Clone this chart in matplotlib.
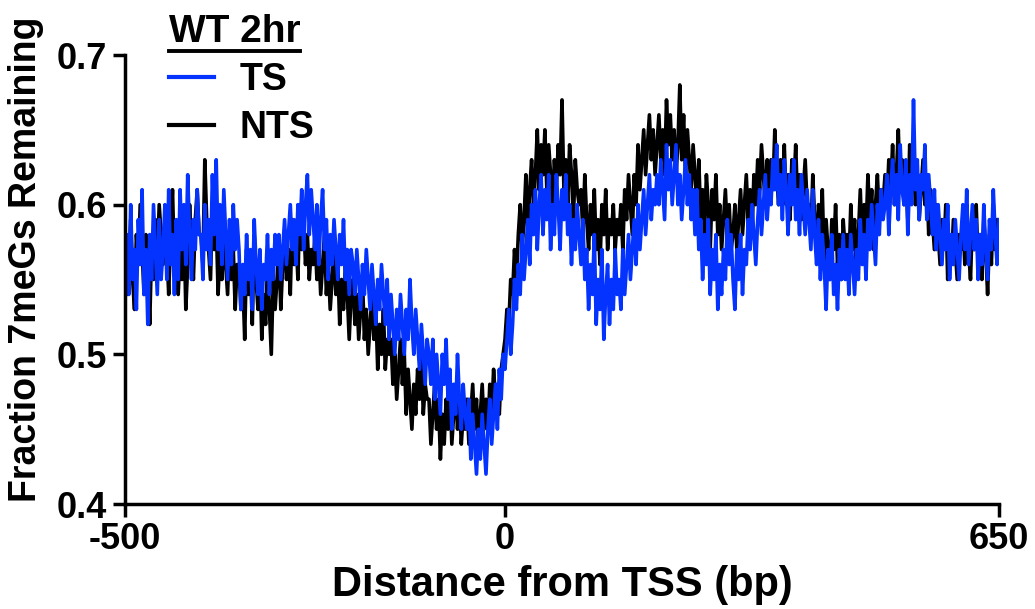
import matplotlib
matplotlib.use("Agg")
import matplotlib.pyplot as plt
import numpy as np
from matplotlib.lines import Line2D

plt.rcParams['font.family'] = ['Liberation Sans', 'DejaVu Sans']
plt.rcParams['font.weight'] = 'bold'

# distance from TSS, every 2.5 bp (one row below = 50 bp)
pos = np.arange(-500, 650.1, 2.5)

ts = [
    0.56, 0.58, 0.54, 0.60, 0.55, 0.57, 0.53, 0.59, 0.56, 0.61, 0.54, 0.57, 0.52, 0.58, 0.55, 0.60, 0.57, 0.54, 0.59, 0.55,
    0.57, 0.60, 0.55, 0.61, 0.56, 0.58, 0.54, 0.59, 0.55, 0.61, 0.57, 0.60, 0.56, 0.62, 0.58, 0.55, 0.59, 0.57, 0.61, 0.58,
    0.58, 0.55, 0.60, 0.57, 0.59, 0.56, 0.62, 0.58, 0.63, 0.57, 0.60, 0.56, 0.61, 0.58, 0.55, 0.59, 0.56, 0.60, 0.57, 0.59,
    0.57, 0.53, 0.56, 0.54, 0.58, 0.55, 0.57, 0.53, 0.59, 0.56, 0.54, 0.57, 0.53, 0.56, 0.55, 0.58, 0.54, 0.57, 0.55, 0.58,
    0.56, 0.58, 0.55, 0.57, 0.59, 0.56, 0.58, 0.60, 0.57, 0.59, 0.56, 0.60, 0.58, 0.61, 0.57, 0.60, 0.62, 0.58, 0.61, 0.59,
    0.57, 0.60, 0.56, 0.59, 0.61, 0.57, 0.59, 0.55, 0.58, 0.56, 0.59, 0.57, 0.55, 0.58, 0.56, 0.59, 0.55, 0.57, 0.54, 0.57,
    0.56, 0.54, 0.57, 0.55, 0.53, 0.56, 0.54, 0.57, 0.55, 0.53, 0.56, 0.54, 0.52, 0.55, 0.53, 0.56, 0.54, 0.52, 0.55, 0.51,
    0.54, 0.52, 0.50, 0.53, 0.51, 0.54, 0.52, 0.50, 0.53, 0.51, 0.55, 0.52, 0.50, 0.53, 0.51, 0.49, 0.52, 0.50, 0.48, 0.51,
    0.50, 0.48, 0.51, 0.47, 0.50, 0.48, 0.46, 0.50, 0.48, 0.51, 0.47, 0.49, 0.45, 0.48, 0.46, 0.50, 0.47, 0.45, 0.48, 0.46,
    0.45, 0.47, 0.43, 0.46, 0.44, 0.42, 0.45, 0.43, 0.46, 0.44, 0.42, 0.45, 0.47, 0.44, 0.46, 0.48, 0.45, 0.49, 0.47, 0.50,
    0.49, 0.51, 0.53, 0.50, 0.52, 0.55, 0.53, 0.56, 0.54, 0.58, 0.55, 0.57, 0.59, 0.56, 0.60, 0.58, 0.61, 0.57, 0.60, 0.62,
    0.58, 0.61, 0.59, 0.62, 0.57, 0.60, 0.58, 0.62, 0.60, 0.57, 0.61, 0.59, 0.62, 0.58, 0.60, 0.56, 0.59, 0.57, 0.60, 0.58,
    0.56, 0.59, 0.55, 0.57, 0.53, 0.56, 0.54, 0.58, 0.52, 0.55, 0.53, 0.57, 0.51, 0.54, 0.56, 0.52, 0.55, 0.53, 0.57, 0.54,
    0.55, 0.53, 0.57, 0.54, 0.56, 0.58, 0.55, 0.57, 0.59, 0.56, 0.60, 0.57, 0.59, 0.61, 0.58, 0.60, 0.62, 0.59, 0.61, 0.60,
    0.62, 0.60, 0.63, 0.61, 0.59, 0.64, 0.61, 0.63, 0.60, 0.62, 0.64, 0.60, 0.62, 0.59, 0.61, 0.63, 0.60, 0.62, 0.59, 0.61,
    0.58, 0.61, 0.57, 0.59, 0.55, 0.58, 0.56, 0.59, 0.54, 0.57, 0.55, 0.58, 0.53, 0.56, 0.54, 0.57, 0.55, 0.59, 0.56, 0.58,
    0.55, 0.53, 0.57, 0.55, 0.58, 0.54, 0.57, 0.56, 0.59, 0.57, 0.60, 0.58, 0.56, 0.59, 0.61, 0.58, 0.60, 0.62, 0.59, 0.61,
    0.60, 0.63, 0.61, 0.64, 0.60, 0.62, 0.59, 0.63, 0.61, 0.58, 0.62, 0.60, 0.63, 0.59, 0.61, 0.58, 0.62, 0.60, 0.58, 0.61,
    0.59, 0.57, 0.61, 0.58, 0.56, 0.59, 0.55, 0.58, 0.56, 0.53, 0.57, 0.55, 0.58, 0.54, 0.56, 0.53, 0.57, 0.55, 0.58, 0.55,
    0.57, 0.54, 0.58, 0.56, 0.54, 0.57, 0.55, 0.59, 0.56, 0.58, 0.55, 0.59, 0.57, 0.60, 0.58, 0.56, 0.60, 0.58, 0.61, 0.59,
    0.60, 0.62, 0.58, 0.61, 0.63, 0.60, 0.62, 0.59, 0.64, 0.61, 0.60, 0.63, 0.58, 0.62, 0.60, 0.67, 0.61, 0.63, 0.59, 0.62,
    0.61, 0.64, 0.59, 0.62, 0.60, 0.58, 0.61, 0.57, 0.60, 0.58, 0.56, 0.59, 0.57, 0.60, 0.55, 0.58, 0.56, 0.59, 0.57, 0.55,
    0.58, 0.60, 0.57, 0.61, 0.56, 0.58, 0.60, 0.57, 0.59, 0.55, 0.58, 0.56, 0.60, 0.57, 0.55, 0.59, 0.57, 0.61, 0.58, 0.56,
    0.59,
]

nts = [
    0.57, 0.54, 0.56, 0.59, 0.55, 0.53, 0.58, 0.56, 0.60, 0.57, 0.54, 0.58, 0.56, 0.52, 0.57, 0.55, 0.59, 0.56, 0.60, 0.58,
    0.56, 0.59, 0.57, 0.54, 0.58, 0.61, 0.56, 0.58, 0.54, 0.57, 0.55, 0.59, 0.53, 0.56, 0.60, 0.57, 0.55, 0.59, 0.61, 0.58,
    0.58, 0.56, 0.63, 0.59, 0.57, 0.55, 0.60, 0.57, 0.59, 0.54, 0.57, 0.55, 0.58, 0.56, 0.54, 0.58, 0.55, 0.57, 0.53, 0.56,
    0.56, 0.53, 0.55, 0.51, 0.57, 0.54, 0.56, 0.52, 0.58, 0.55, 0.53, 0.56, 0.51, 0.54, 0.52, 0.56, 0.53, 0.50, 0.55, 0.53,
    0.55, 0.57, 0.53, 0.56, 0.58, 0.55, 0.57, 0.54, 0.59, 0.56, 0.58, 0.55, 0.60, 0.57, 0.59, 0.56, 0.58, 0.55, 0.57, 0.56,
    0.58, 0.55, 0.57, 0.54, 0.56, 0.58, 0.54, 0.56, 0.53, 0.55, 0.57, 0.54, 0.56, 0.52, 0.55, 0.53, 0.56, 0.54, 0.51, 0.54,
    0.55, 0.52, 0.54, 0.51, 0.53, 0.55, 0.51, 0.53, 0.50, 0.52, 0.54, 0.51, 0.53, 0.49, 0.52, 0.50, 0.53, 0.49, 0.51, 0.50,
    0.51, 0.48, 0.50, 0.47, 0.49, 0.51, 0.48, 0.50, 0.46, 0.49, 0.47, 0.45, 0.48, 0.46, 0.49, 0.47, 0.50, 0.46, 0.48, 0.47,
    0.47, 0.44, 0.46, 0.48, 0.45, 0.47, 0.43, 0.46, 0.44, 0.47, 0.45, 0.48, 0.44, 0.46, 0.48, 0.45, 0.47, 0.44, 0.46, 0.45,
    0.47, 0.44, 0.46, 0.48, 0.45, 0.47, 0.44, 0.46, 0.48, 0.45, 0.47, 0.45, 0.48, 0.46, 0.49, 0.47, 0.48, 0.46, 0.49, 0.50,
    0.51, 0.53, 0.52, 0.55, 0.54, 0.57, 0.55, 0.58, 0.60, 0.57, 0.59, 0.62, 0.58, 0.61, 0.63, 0.60, 0.62, 0.65, 0.61, 0.64,
    0.62, 0.65, 0.61, 0.64, 0.62, 0.60, 0.63, 0.61, 0.64, 0.62, 0.67, 0.61, 0.63, 0.60, 0.64, 0.62, 0.59, 0.63, 0.61, 0.60,
    0.61, 0.58, 0.62, 0.59, 0.57, 0.60, 0.58, 0.61, 0.57, 0.59, 0.56, 0.60, 0.58, 0.61, 0.57, 0.59, 0.58, 0.60, 0.57, 0.59,
    0.58, 0.60, 0.57, 0.61, 0.59, 0.62, 0.60, 0.58, 0.62, 0.60, 0.64, 0.61, 0.63, 0.65, 0.62, 0.64, 0.66, 0.63, 0.65, 0.62,
    0.64, 0.66, 0.63, 0.65, 0.62, 0.67, 0.64, 0.66, 0.63, 0.65, 0.62, 0.64, 0.68, 0.63, 0.66, 0.62, 0.65, 0.63, 0.61, 0.64,
    0.62, 0.60, 0.63, 0.59, 0.61, 0.58, 0.62, 0.60, 0.57, 0.61, 0.59, 0.62, 0.58, 0.60, 0.57, 0.59, 0.61, 0.58, 0.60, 0.57,
    0.58, 0.60, 0.57, 0.59, 0.61, 0.58, 0.60, 0.62, 0.59, 0.61, 0.58, 0.62, 0.60, 0.63, 0.61, 0.64, 0.62, 0.60, 0.63, 0.61,
    0.63, 0.61, 0.65, 0.62, 0.60, 0.63, 0.61, 0.64, 0.60, 0.62, 0.59, 0.63, 0.61, 0.64, 0.60, 0.62, 0.59, 0.61, 0.63, 0.60,
    0.60, 0.58, 0.62, 0.59, 0.57, 0.60, 0.58, 0.61, 0.56, 0.59, 0.57, 0.55, 0.59, 0.57, 0.60, 0.56, 0.58, 0.55, 0.59, 0.57,
    0.58, 0.56, 0.60, 0.57, 0.59, 0.55, 0.58, 0.61, 0.57, 0.60, 0.58, 0.62, 0.59, 0.61, 0.57, 0.60, 0.62, 0.59, 0.61, 0.60,
    0.62, 0.60, 0.63, 0.61, 0.64, 0.60, 0.62, 0.65, 0.61, 0.63, 0.60, 0.62, 0.59, 0.64, 0.61, 0.63, 0.60, 0.62, 0.59, 0.61,
    0.63, 0.60, 0.62, 0.58, 0.61, 0.59, 0.57, 0.60, 0.58, 0.56, 0.59, 0.57, 0.60, 0.55, 0.58, 0.56, 0.59, 0.57, 0.55, 0.58,
    0.57, 0.59, 0.56, 0.60, 0.57, 0.55, 0.59, 0.57, 0.60, 0.56, 0.58, 0.55, 0.59, 0.57, 0.54, 0.58, 0.56, 0.60, 0.57, 0.59,
    0.58,
]

xticks = [-500, 0, 650]
yticks = [0.4, 0.5, 0.6, 0.7]

W, H = 1035, 609
fig = plt.figure(figsize=(W / 100, H / 100), dpi=100)
ax = fig.add_axes([125 / W, 1 - 504 / H, 874 / W, 449 / H])

ax.plot(pos, nts, color='black', lw=2.6, label='NTS')
ax.plot(pos, ts, color='#0433ff', lw=2.6, label='TS')

ax.set_xlim(-500, 650)
ax.set_ylim(0.4, 0.7)
ax.set_xticks(xticks)
ax.set_yticks(yticks)
ax.set_xticklabels([str(v) for v in xticks])
ax.set_yticklabels(['%.1f' % v for v in yticks])

for s in ['top', 'right']:
    ax.spines[s].set_visible(False)
for s in ['left', 'bottom']:
    ax.spines[s].set_linewidth(2.5)
ax.tick_params(width=2.5, length=9, labelsize=26, pad=4)

ax.set_xlabel('Distance from TSS (bp)', fontsize=30, fontweight='bold', labelpad=6)
ax.set_ylabel('Fraction 7meGs Remaining', fontsize=27, fontweight='bold')
ax.yaxis.set_label_coords(-0.093, 0.545)

h, l = ax.get_legend_handles_labels()
leg = ax.legend(h[::-1], l[::-1], loc='upper left', bbox_to_anchor=(165 / W, 1 - 10 / H),
                bbox_transform=fig.transFigure, frameon=False, fontsize=27,
                title='WT 2hr', title_fontproperties={'weight': 'bold', 'size': 28},
                alignment='left', handlelength=1.2, handletextpad=0.7,
                labelspacing=0.32, borderaxespad=0, borderpad=0.1)
for t in leg.get_texts():
    t.set_fontweight('bold')
for lh in leg.get_lines():
    lh.set_linewidth(3)

# underline the legend title
fig.canvas.draw()
bb = leg.get_title().get_window_extent().transformed(fig.transFigure.inverted())
fig.add_artist(Line2D([bb.x0, bb.x1], [bb.y0 - 0.002, bb.y0 - 0.002], color='black', lw=2.8))

fig.savefig('out.png', dpi=100)
